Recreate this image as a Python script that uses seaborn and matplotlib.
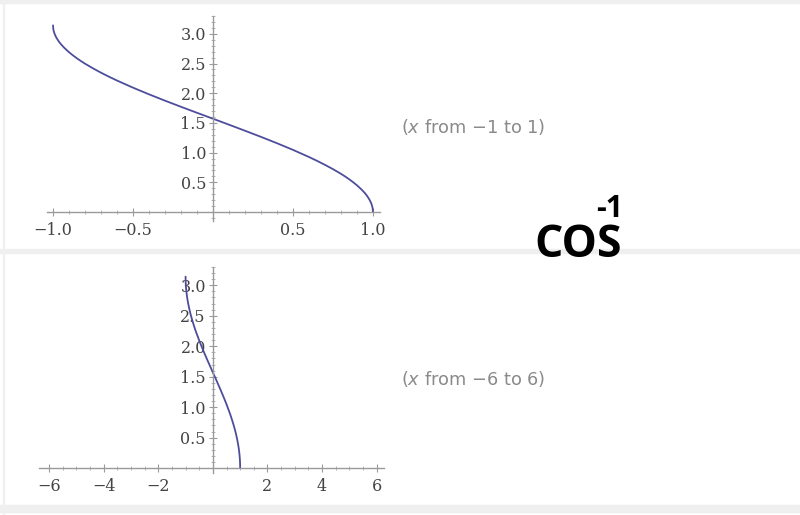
import matplotlib
matplotlib.use('Agg')
import matplotlib.pyplot as plt
import matplotlib.patches as patches
from matplotlib.ticker import MultipleLocator
import seaborn as sns

# arccos curve, values
x_vals = [-1.0, -0.998, -0.995, -0.99, -0.985, -0.98, -0.97, -0.96, -0.95, -0.93, -0.9,
          -0.875, -0.85, -0.825, -0.8, -0.75, -0.7, -0.65, -0.6, -0.5, -0.4, -0.3,
          -0.2, -0.1, 0.0, 0.1, 0.2, 0.3, 0.4, 0.5, 0.6, 0.65, 0.7, 0.75, 0.8,
          0.825, 0.85, 0.875, 0.9, 0.93, 0.95, 0.96, 0.97, 0.98, 0.985, 0.99,
          0.995, 0.998, 1.0]
y_vals = [3.142, 3.078, 3.042, 3.000, 2.969, 2.941, 2.897, 2.858, 2.824, 2.766, 2.691,
          2.637, 2.587, 2.541, 2.498, 2.419, 2.346, 2.278, 2.214, 2.094, 1.982, 1.875,
          1.772, 1.671, 1.571, 1.471, 1.369, 1.266, 1.159, 1.047, 0.927, 0.863, 0.795,
          0.723, 0.644, 0.601, 0.555, 0.505, 0.451, 0.376, 0.318, 0.284, 0.245, 0.200,
          0.173, 0.142, 0.100, 0.063, 0.0]

top_xticks = [-1.0, -0.5, 0.5, 1.0]
top_xlabels = ['\u22121.0', '\u22120.5', '0.5', '1.0']
bottom_xticks = [-6, -4, -2, 2, 4, 6]
bottom_xlabels = ['\u22126', '\u22124', '\u22122', '2', '4', '6']
yticks = [0.5, 1.0, 1.5, 2.0, 2.5, 3.0]
ylabels = ['0.5', '1.0', '1.5', '2.0', '2.5', '3.0']

sns.set_style('white')
W, H = 800, 515
fig = plt.figure(figsize=(8, 5.15), dpi=100)

# light grey separators like the page
for (y0, h) in [(0, 3), (249, 4), (505, 7)]:
    fig.patches.append(patches.Rectangle((0, 1 - (y0 + h) / H), 1, h / H,
                                         transform=fig.transFigure,
                                         color='#efefef', zorder=0))
fig.patches.append(patches.Rectangle((3 / W, 0), 1.2 / W, 1, transform=fig.transFigure,
                                     color='#f0f0f0', zorder=0))

curve_color = '#4D4D9C'
axis_color = '#9a9a9a'
label_color = '#444444'


def make_panel(box, xlim, ylim, xticks, xlabels, xminor):
    l, t, r, b = box
    ax = fig.add_axes([l / W, 1 - b / H, (r - l) / W, (b - t) / H])
    ax.patch.set_alpha(0)
    sns.lineplot(x=x_vals, y=y_vals, ax=ax, color=curve_color, linewidth=1.3,
                 sort=False, estimator=None)
    ax.set_xlim(*xlim)
    ax.set_ylim(*ylim)
    for s in ['top', 'right']:
        ax.spines[s].set_visible(False)
    ax.spines['left'].set_position(('data', 0))
    ax.spines['bottom'].set_position(('data', 0))
    for s in ['left', 'bottom']:
        ax.spines[s].set_color(axis_color)
        ax.spines[s].set_linewidth(1.0)
    ax.set_xticks(xticks)
    ax.set_xticklabels(xlabels)
    ax.set_yticks(yticks)
    ax.set_yticklabels(ylabels)
    ax.xaxis.set_minor_locator(MultipleLocator(xminor))
    ax.yaxis.set_minor_locator(MultipleLocator(0.1))
    ax.tick_params(which='both', bottom=True, left=True, top=False, right=False)
    ax.tick_params(which='major', direction='inout', length=6, width=0.8,
                   color=axis_color, labelcolor=label_color, labelsize=11.5, pad=2)
    ax.tick_params(axis='x', which='major', pad=4)
    ax.tick_params(which='minor', direction='inout', length=3.5, width=0.6,
                   color='#aaaaaa')
    for lab in ax.get_xticklabels() + ax.get_yticklabels():
        lab.set_family('DejaVu Serif')
    return ax


make_panel((47, 16, 380, 221), (-1.0375, 1.044), (-0.15, 3.3),
           top_xticks, top_xlabels, 0.1)
make_panel((39, 267, 384, 473), (-6.37, 6.27), (-0.08, 3.3),
           bottom_xticks, bottom_xlabels, 0.5)

fig.text(401 / W, 1 - 127 / H, '($x$ from \u22121 to 1)', color='#8a8a8a',
         fontsize=12.8, va='center', ha='left', family='DejaVu Sans')
fig.text(401 / W, 1 - 379 / H, '($x$ from \u22126 to 6)', color='#8a8a8a',
         fontsize=12.8, va='center', ha='left', family='DejaVu Sans')

fig.text(534 / W, 1 - 257 / H, 'COS', color='black', fontsize=32,
         fontweight='bold', family='Open Sans', ha='left', va='baseline')
fig.text(596 / W, 1 - 217 / H, '-1', color='black', fontsize=22,
         fontweight='bold', family='Open Sans', ha='left', va='baseline')

fig.savefig('out.png', dpi=100)
